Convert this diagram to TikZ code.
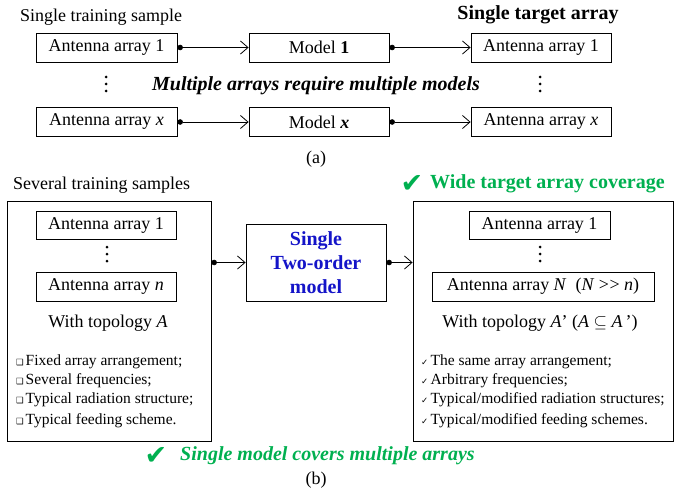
\documentclass[tikz,border=0pt]{standalone}
\usepackage{fontspec}
\setmainfont{Liberation Serif}
\newfontfamily\dejavu{DejaVu Sans}
\usetikzlibrary{arrows.meta}
\definecolor{myblue}{RGB}{20,20,200}
\definecolor{mygreen}{RGB}{0,176,80}
\newcommand{\sqb}{\makebox[9.5pt][l]{\raisebox{0.5pt}{\dejavu\fontsize{8.5}{8.5}\selectfont ❑}}}
\newcommand{\ckb}{\makebox[9.5pt][l]{\dejavu\fontsize{8.5}{8.5}\selectfont ✓}}
\begin{document}
\begin{tikzpicture}[x=1pt,y=-1pt,
  box/.style={draw,line width=0.8pt,inner sep=0pt,font=\fontsize{18}{21}\selectfont},
  plain/.style={inner sep=0pt,font=\fontsize{18}{21}\selectfont},
  head/.style={inner sep=0pt,font=\fontsize{20}{24}\selectfont\bfseries},
  item/.style={inner sep=0pt,anchor=west,font=\fontsize{15.5}{18}\selectfont},
  arr/.style={line width=0.8pt,{Circle[length=5.5pt]}-{Straight Barb[length=7.5pt,width=13pt,line width=0.8pt]}},
  dot/.style={fill,circle,inner sep=0pt,minimum size=3pt},
  bigck/.style={inner sep=0pt,text=mygreen,font=\dejavu\fontsize{27}{30}\selectfont}]
\useasboundingbox (0,0) rectangle (676,492);
% ---------- (a) ----------
\node[plain,anchor=west] (hs) at (20,17) {Single training sample};
\node[head] (ht) at (538,15) {Single target array};
\node[box,minimum width=141pt,minimum height=29pt] (a1) at (106.5,47.5) {Antenna array 1};
\node[box,minimum width=140pt,minimum height=29pt] (m1) at (319,47.5) {Model \textbf{1}};
\node[box,minimum width=140pt,minimum height=29pt] (t1) at (541,47.5) {Antenna array 1};
\node[box,minimum width=141pt,minimum height=29pt] (ax) at (106.5,122) {Antenna array \textit{x}};
\node[box,minimum width=140pt,minimum height=29pt] (mx) at (319,122) {Model \textbf{\textit{x}}};
\node[box,minimum width=140pt,minimum height=29pt] (tx) at (541,122) {Antenna array \textit{x}};
\draw[arr] (a1.east) -- (m1.west);
\draw[arr] (m1.east) -- (t1.west);
\draw[arr] (ax.east) -- (mx.west);
\draw[arr] (mx.east) -- (tx.west);
\node[dot] (d1) at (106,77) {};
\node[dot] (d2) at (106,84) {};
\node[dot] (d3) at (106,91) {};
\node[dot] (d4) at (540,77) {};
\node[dot] (d5) at (540,84) {};
\node[dot] (d6) at (540,91) {};
\node[head,font=\fontsize{20}{24}\selectfont\bfseries\itshape] (mm) at (316,86) {Multiple arrays require multiple models};
\node[plain] (ca) at (316,159) {(a)};
% ---------- (b) ----------
\node[plain,anchor=west] (hs2) at (13,185) {Several training samples};
\node[bigck] (ck1) at (412,184) {✔};
\node[head,anchor=west,text=mygreen] (wt) at (430,184) {Wide target array coverage};
\node[draw,line width=0.8pt,minimum width=204pt,minimum height=240pt,inner sep=0pt] (L) at (109,321) {};
\node[draw,line width=0.8pt,minimum width=260pt,minimum height=240pt,inner sep=0pt] (R) at (543,321) {};
\node[box,minimum width=140pt,minimum height=28pt] (la1) at (106,225) {Antenna array 1};
\node[box,minimum width=140pt,minimum height=29pt] (lan) at (106,286.5) {Antenna array \textit{n}};
\node[dot] (d7) at (107,247) {};
\node[dot] (d8) at (107,254) {};
\node[dot] (d9) at (107,261) {};
\node[plain] (wa) at (108,323) {With topology \textit{A}};
\node[item] (l1) at (16,362) {\sqb Fixed array arrangement;};
\node[item] (l2) at (16,381) {\sqb Several frequencies;};
\node[item] (l3) at (16,400) {\sqb Typical radiation structure;};
\node[item] (l4) at (16,421) {\sqb Typical feeding scheme.};
\node[draw,line width=0.8pt,minimum width=140pt,minimum height=77pt,inner sep=0pt,align=center,text=myblue,font=\fontsize{20}{24}\selectfont\bfseries] (M) at (316,262.5) {Single\\Two-order\\model};
\draw[arr] (M.west -| L.east) -- (M.west);
\draw[arr] (M.east) -- (M.east -| R.west);
\node[box,minimum width=141pt,minimum height=28pt] (ra1) at (539.5,225) {Antenna array 1};
\node[box,minimum width=222pt,minimum height=29pt] (ran) at (543,286.5) {Antenna array \textit{N}\enspace(\textit{N} >\kern0.5pt> \textit{n})};
\node[dot] (d10) at (540,247) {};
\node[dot] (d11) at (540,254) {};
\node[dot] (d12) at (540,261) {};
\node[plain] (wb) at (540,323) {With topology \textit{A}’ (\textit{A} $\subseteq$ \textit{A}\,’)};
\node[item] (r1) at (421,362) {\ckb The same array arrangement;};
\node[item] (r2) at (421,381) {\ckb Arbitrary frequencies;};
\node[item] (r3) at (421,400) {\ckb Typical/modified radiation structures;};
\node[item] (r4) at (421,421) {\ckb Typical/modified feeding schemes.};
\node[bigck] (ck2) at (156,456) {✔};
\node[head,anchor=west,text=mygreen,font=\fontsize{20}{24}\selectfont\bfseries\itshape] (sm) at (180,456) {Single model covers multiple arrays};
\node[plain] (cb) at (316,480) {(b)};
\end{tikzpicture}
\end{document}
